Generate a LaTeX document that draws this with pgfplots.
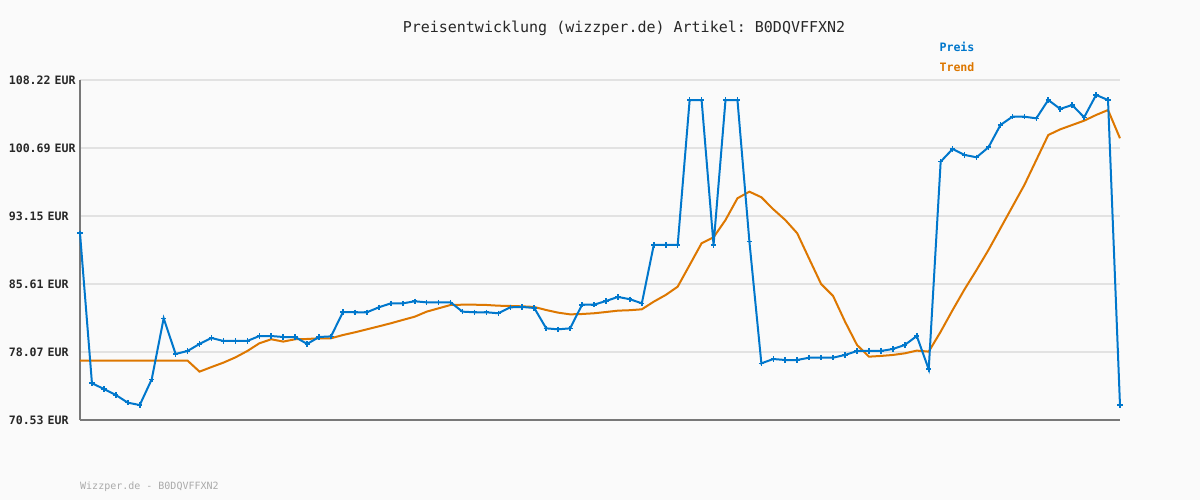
\documentclass[border=0pt]{standalone}
\usepackage{fontspec}
\setmonofont{DejaVu Sans Mono}
\usepackage{pgfplots}
\usepackage{pgfplotstable}
\pgfplotsset{compat=1.18}
\definecolor{preis}{RGB}{0,119,204}
\definecolor{trend}{RGB}{221,119,0}
\definecolor{bg}{RGB}{250,250,250}
\definecolor{gridc}{RGB}{226,226,226}
\definecolor{axc}{RGB}{120,120,120}
\definecolor{txt}{RGB}{40,40,40}
\pgfplotstableread{
i p t
0 91.23 77.11
1 74.60 77.11
2 73.97 77.11
3 73.30 77.11
4 72.45 77.11
5 72.19 77.11
6 75.04 77.11
7 81.80 77.11
8 77.85 77.11
9 78.18 77.11
10 78.96 75.89
11 79.62 76.40
12 79.29 76.89
13 79.29 77.47
14 79.29 78.18
15 79.84 79.03
16 79.84 79.48
17 79.73 79.22
18 79.73 79.48
19 78.96 79.51
20 79.73 79.59
21 79.80 79.59
22 82.50 79.95
23 82.47 80.25
24 82.47 80.58
25 83.02 80.91
26 83.46 81.25
27 83.46 81.62
28 83.69 81.98
29 83.57 82.54
30 83.57 82.91
31 83.57 83.28
32 82.54 83.31
33 82.47 83.31
34 82.47 83.28
35 82.36 83.20
36 83.02 83.17
37 83.06 83.13
38 82.95 83.06
39 80.69 82.72
40 80.58 82.43
41 80.69 82.24
42 83.31 82.28
43 83.31 82.36
44 83.72 82.50
45 84.17 82.65
46 83.92 82.70
47 83.46 82.80
48 89.93 83.65
49 89.93 84.39
50 89.93 85.31
51 106.00 87.71
52 106.00 90.12
53 89.93 90.78
54 106.00 92.70
55 106.00 95.11
56 90.30 95.84
57 76.81 95.22
58 77.29 93.89
59 77.18 92.70
60 77.18 91.23
61 77.44 88.40
62 77.44 85.60
63 77.44 84.28
64 77.74 81.43
65 78.18 78.85
66 78.18 77.55
67 78.18 77.63
68 78.40 77.74
69 78.85 77.92
70 79.84 78.22
71 76.15 78.11
72 99.17 80.32
73 100.57 82.72
74 99.91 85.02
75 99.65 87.16
76 100.76 89.38
77 103.23 91.78
78 104.15 94.18
79 104.15 96.58
80 103.97 99.35
81 106.00 102.12
82 105.01 102.75
83 105.45 103.23
84 104.08 103.71
85 106.56 104.34
86 106.00 104.89
87 72.19 101.76
}\datatable
\begin{document}
\begin{tikzpicture}[x=1pt,y=1pt]
\fill[bg] (0,0) rectangle (1200,500);
\begin{axis}[
  at={(80pt,80pt)}, anchor=south west,
  scale only axis, width=1040pt, height=340pt,
  xmin=0, xmax=87, ymin=70.53, ymax=108.22,
  axis lines*=left,
  axis line style={axc, line width=2pt, -},
  every outer x axis line/.append style={-},
  every outer y axis line/.append style={-},
  xtick=\empty,
  ytick={70.53,78.07,85.61,93.15,100.69,108.22},
  yticklabels={70.53 EUR,78.07 EUR,85.61 EUR,93.15 EUR,100.69 EUR,108.22 EUR},
  yticklabel style={font=\ttfamily\bfseries\fontsize{11.6}{14}\selectfont, text=txt, inner xsep=0pt, text width=71pt, align=left, anchor=east},
  major tick length=0pt,
  ymajorgrids,
  grid style={gridc, line width=2.5pt},
  clip=false,
]
\addplot[trend, line width=2pt, no markers] table[x=i, y=t] {\datatable};
\addplot[preis, line width=2pt, mark=+, mark size=2.6pt, mark options={solid, line width=1.6pt}] table[x=i, y=p] {\datatable};
\end{axis}
\node[font=\ttfamily\fontsize{15}{18}\selectfont, text=txt] at (624,472) {Preisentwicklung (wizzper.de) Artikel: B0DQVFFXN2};
\node[font=\ttfamily\bfseries\fontsize{11.6}{14}\selectfont, text=preis] at (957,453) {Preis};
\node[font=\ttfamily\bfseries\fontsize{11.6}{14}\selectfont, text=trend] at (957,433) {Trend};
\node[font=\ttfamily\fontsize{10}{12}\selectfont, text={rgb,255:red,170;green,170;blue,170}, anchor=west, inner sep=0pt] at (80,13) {Wizzper.de - B0DQVFFXN2};
\end{tikzpicture}
\end{document}
